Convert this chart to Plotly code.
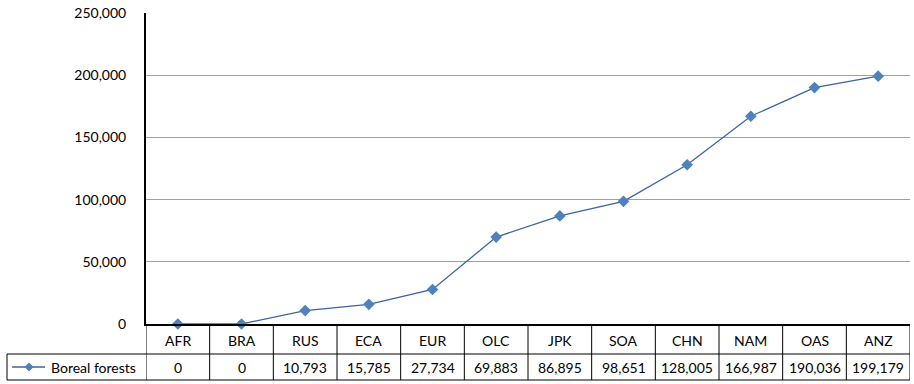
import plotly.graph_objects as go

regions = ["AFR", "BRA", "RUS", "ECA", "EUR", "OLC", "JPK", "SOA", "CHN", "NAM", "OAS", "ANZ"]
boreal = [0, 0, 10793, 15785, 27734, 69883, 86895, 98651, 128005, 166987, 190036, 199179]
series_name = "Boreal forests"
y_ticks = [0, 50000, 100000, 150000, 200000, 250000]

W, H = 914, 384
L, R, T, B = 146, 4, 13, 60
plot_h = H - T - B
pw = W - L - R
FONT = "Lato"
LINE_C = "#3B64A0"
MARK_C = "#4F81BD"

def py(px_below):
    """paper y for a pixel offset below the bottom of the plot area"""
    return -px_below / plot_h

def px_left(px):
    """paper x for a pixel offset left of the plot area"""
    return -px / pw

fig = go.Figure()
fig.add_trace(go.Scatter(
    x=list(range(len(regions))), y=boreal, mode="lines+markers",
    line=dict(color=LINE_C, width=1.3),
    marker=dict(symbol="diamond", size=9, color=MARK_C),
    name=series_name, showlegend=False, cliponaxis=False,
))

shapes = []
annos = []
row1, row2 = 30, 56  # pixel offsets of the table's row dividers below the axis
n = len(regions)
tbl_left = px_left(L - 7)
# table grid
for i in range(n + 1):
    shapes.append(dict(type="line", xref="x", yref="paper", x0=i - 0.5, x1=i - 0.5,
                       y0=0, y1=py(row2), line=dict(color="#000", width=1)))
for r in (row1, row2):
    shapes.append(dict(type="line", xref="paper", yref="paper", x0=tbl_left, x1=1,
                       y0=py(r), y1=py(r), line=dict(color="#000", width=1)))
shapes.append(dict(type="line", xref="paper", yref="paper", x0=tbl_left, x1=tbl_left,
                   y0=py(row1), y1=py(row2), line=dict(color="#000", width=1)))

txt_font = dict(family=FONT, size=14, color="#000")
for i, (r, v) in enumerate(zip(regions, boreal)):
    annos.append(dict(x=i, y=py(row1 / 2 + 1), xref="x", yref="paper", text=r, showarrow=False,
                      xanchor="center", yanchor="middle", font=txt_font))
    annos.append(dict(x=i, y=py((row1 + row2) / 2), xref="x", yref="paper", text=f"{v:,}",
                      showarrow=False, xanchor="center", yanchor="middle", font=txt_font))

# legend key inside the table
kx0, kx1, kmid = px_left(L - 12), px_left(L - 45), px_left(L - 29)
ky = py((row1 + row2) / 2)
shapes.append(dict(type="line", xref="paper", yref="paper", x0=kx0, x1=kx1, y0=ky, y1=ky,
                   line=dict(color=LINE_C, width=1.3)))
d = 4.5
shapes.append(dict(type="path", xref="paper", yref="paper",
                   path=f"M {kmid - d / pw} {ky} L {kmid} {ky + d / plot_h} L {kmid + d / pw} {ky} L {kmid} {ky - d / plot_h} Z",
                   fillcolor=MARK_C, line=dict(width=0)))
annos.append(dict(x=px_left(L - 49), y=ky, xref="paper", yref="paper", xanchor="left",
                  yanchor="middle", text=series_name, showarrow=False, font=txt_font))

fig.update_layout(
    width=W, height=H, margin=dict(l=L, r=R, t=T, b=B),
    paper_bgcolor="white", plot_bgcolor="white",
    shapes=shapes, annotations=annos,
    xaxis=dict(range=[-0.5, n - 0.5], showticklabels=False, showgrid=False, zeroline=False,
               showline=True, linecolor="#000", linewidth=2, ticks=""),
    yaxis=dict(range=[0, 250000], tickvals=y_ticks, ticktext=[f"{t:,}" for t in y_ticks],
               showgrid=True, gridcolor="#A0A0A0", gridwidth=1, zeroline=False,
               showline=True, linecolor="#000", linewidth=2, ticks="",
               ticklabelstandoff=15, tickfont=txt_font),
)
fig.write_html("out.html")
